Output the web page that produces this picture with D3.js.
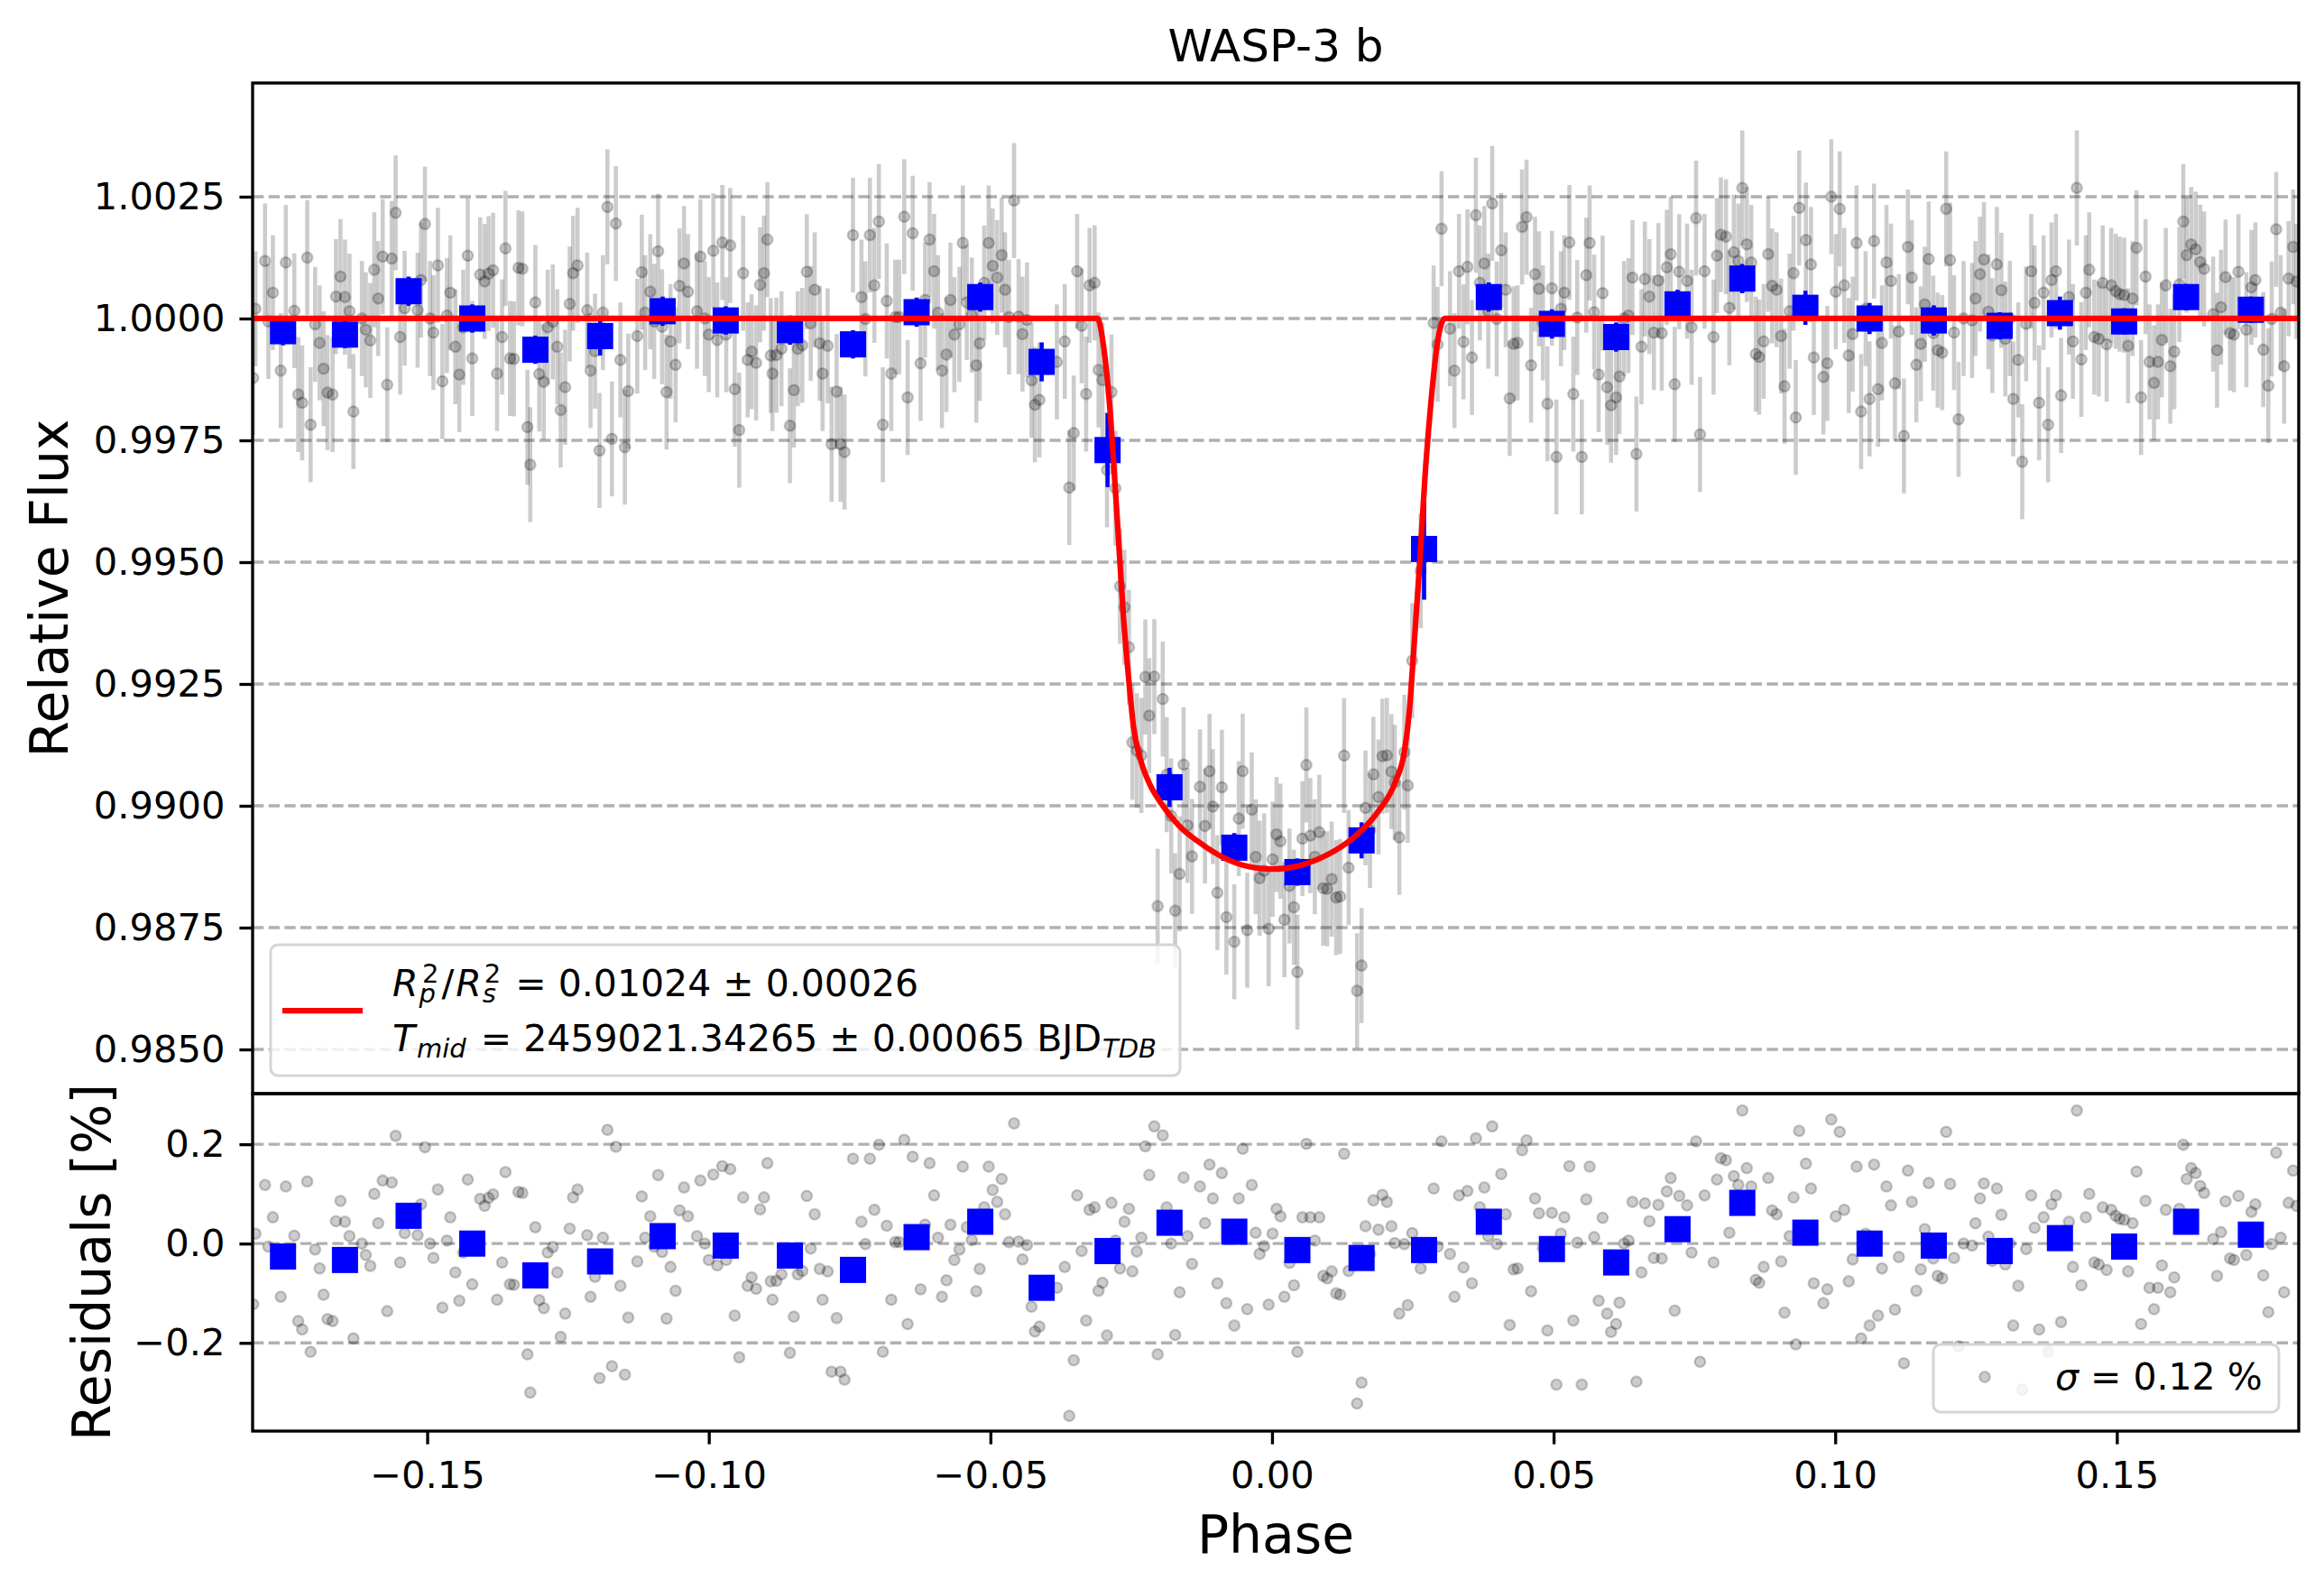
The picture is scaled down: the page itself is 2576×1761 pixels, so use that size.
<!DOCTYPE html>
<html><head><meta charset="utf-8">
<script src="https://cdn.jsdelivr.net/npm/d3@7"></script>
<style>
body{margin:0;background:#fff}
svg{display:block;font-family:"DejaVu Sans",sans-serif}
text{white-space:pre}
</style>
</head><body><svg id="c" width="2576" height="1761"></svg>
<script>
// ---------------- DATA ----------------
const title = "WASP-3 b";
const xLabel = "Phase";
const yLabelTop = "Relative Flux";
const yLabelRes = "Residuals [%]";
const xDomain = [-0.181, 0.1823];
const topDomain = [0.984093, 1.004833];
const resDomain = [-0.3776, 0.302];
const topTicks = [0.985, 0.9875, 0.99, 0.9925, 0.995, 0.9975, 1.0, 1.0025];
const resTicks = [-0.2, 0.0, 0.2];
const xTicks = [-0.15, -0.10, -0.05, 0.00, 0.05, 0.10, 0.15];

// individual observations: phase and residual (in %)
const phase = [
-0.1805,-0.1809,-0.1788,-0.1782,-0.1774,-0.1760,-0.1751,-0.1736,-0.1729,-0.1722,
-0.1713,-0.1707,-0.1699,-0.1691,-0.1684,-0.1677,-0.1668,-0.1662,-0.1654,-0.1646,
-0.1638,-0.1631,-0.1616,-0.1609,-0.1601,-0.1594,-0.1587,-0.1579,-0.1571,-0.1563,
-0.1556,-0.1548,-0.1540,-0.1517,-0.1511,-0.1504,-0.1495,-0.1489,-0.1481,-0.1473,
-0.1465,-0.1459,-0.1450,-0.1443,-0.1436,-0.1428,-0.1420,-0.1406,-0.1398,-0.1391,
-0.1383,-0.1376,-0.1367,-0.1361,-0.1353,-0.1346,-0.1338,-0.1331,-0.1322,-0.1317,
-0.1308,-0.1301,-0.1293,-0.1286,-0.1277,-0.1269,-0.1263,-0.1255,-0.1247,-0.1241,
-0.1233,-0.1216,-0.1210,-0.1202,-0.1194,-0.1188,-0.1180,-0.1172,-0.1165,-0.1157,
-0.1149,-0.1143,-0.1127,-0.1119,-0.1113,-0.1104,-0.1097,-0.1090,-0.1083,-0.1075,
-0.1068,-0.1059,-0.1052,-0.1044,-0.1037,-0.1021,-0.1015,-0.1007,-0.1000,-0.0992,
-0.0985,-0.0976,-0.0969,-0.0962,-0.0954,-0.0946,-0.0939,-0.0931,-0.0924,-0.0916,
-0.0909,-0.0902,-0.0896,-0.0890,
-0.0887,-0.0880,-0.0871,-0.0856,-0.0849,-0.0842,-0.0834,-0.0826,-0.0819,-0.0812,
-0.0803,-0.0798,-0.0789,-0.0782,-0.0773,-0.0766,-0.0759,-0.0744,-0.0729,-0.0722,
-0.0714,-0.0706,-0.0698,-0.0691,-0.0684,-0.0676,-0.0669,-0.0662,-0.0653,-0.0647,
-0.0638,-0.0624,-0.0616,-0.0608,-0.0600,-0.0593,-0.0586,-0.0578,-0.0571,-0.0564,
-0.0555,-0.0549,-0.0542,-0.0533,-0.0525,-0.0519,-0.0511,-0.0503,-0.0496,-0.0488,
-0.0480,-0.0474,-0.0467,-0.0458,-0.0450,-0.0443,-0.0435,-0.0427,-0.0421,-0.0413,
-0.0382,-0.0368,-0.0360,-0.0352,-0.0346,-0.0338,-0.0330,-0.0324,-0.0315,-0.0308,
-0.0301,-0.0293,-0.0285,-0.0278,-0.0270,-0.0262,-0.0254,-0.0248,-0.0240,-0.0232,
-0.0225,-0.0218,-0.0209,-0.0203,-0.0194,-0.0187,-0.0179,-0.0172,-0.0164,-0.0157,
-0.0150,-0.0142,-0.0128,-0.0119,-0.0111,-0.0105,-0.0097,-0.0089,-0.0081,-0.0067,
-0.0059,-0.0052,-0.0044,-0.0036,-0.0029,-0.0022,-0.0014,-0.0006,0.0001,0.0008,
0.0015,0.0022,
0.0031,0.0039,0.0045,0.0054,0.0061,0.0068,0.0076,0.0084,0.0091,0.0098,
0.0106,0.0114,0.0121,0.0128,0.0136,0.0151,0.0159,0.0166,0.0174,0.0180,
0.0189,0.0196,0.0204,0.0212,0.0218,0.0226,0.0235,0.0241,0.0249,0.0264,
0.0287,0.0294,0.0301,0.0316,0.0324,0.0332,0.0340,0.0347,0.0355,0.0362,
0.0369,0.0377,0.0384,0.0391,0.0399,0.0407,0.0415,0.0422,0.0429,0.0436,
0.0444,0.0452,0.0460,0.0467,0.0474,0.0481,0.0489,0.0497,0.0505,0.0513,
0.0519,0.0528,0.0535,0.0542,0.0550,0.0558,0.0564,0.0572,0.0580,0.0587,
0.0595,0.0602,0.0611,0.0617,0.0625,0.0633,0.0640,0.0647,0.0656,0.0662,
0.0670,0.0678,0.0686,0.0692,0.0701,0.0708,0.0715,0.0723,0.0737,0.0745,
0.0753,0.0760,0.0768,0.0784,0.0790,0.0797,0.0806,0.0812,0.0820,0.0828,
0.0835,0.0843,0.0851,0.0859,0.0865,0.0873,0.0881,0.0888,0.0896,0.0904,
0.0910,0.0919,0.0926,0.0930,0.0936,
0.0948,0.0957,0.0962,0.0979,0.0986,0.0993,0.1001,0.1008,0.1016,0.1024,
0.1031,0.1038,0.1046,0.1054,0.1061,0.1069,0.1076,0.1083,0.1091,0.1099,
0.1106,0.1113,0.1122,0.1129,0.1136,0.1144,0.1152,0.1159,0.1166,0.1174,
0.1182,0.1190,0.1197,0.1204,0.1211,0.1219,0.1228,0.1243,0.1249,0.1257,
0.1264,0.1272,0.1279,0.1287,0.1295,0.1302,0.1310,0.1316,0.1325,0.1332,
0.1339,0.1348,0.1354,0.1362,0.1370,0.1378,0.1384,0.1392,0.1401,0.1415,
0.1422,0.1429,0.1437,0.1445,0.1451,0.1460,0.1468,0.1475,0.1482,0.1490,
0.1498,0.1505,0.1513,0.1520,0.1528,0.1535,0.1543,0.1551,0.1558,0.1566,
0.1573,0.1580,0.1587,0.1595,0.1602,0.1611,0.1618,0.1624,0.1632,0.1640,
0.1648,0.1655,0.1671,0.1678,0.1685,0.1693,0.1701,0.1708,0.1716,0.1730,
0.1739,0.1746,0.1760,0.1769,0.1775,0.1783,0.1791,0.1797,0.1805,0.1813,
0.1819
];
const resid = [
0.020,-0.122,0.118,-0.006,0.053,-0.107,0.115,0.016,-0.156,-0.173,
0.125,-0.218,-0.012,-0.050,-0.103,-0.152,-0.156,0.045,0.086,0.044,
0.015,-0.191,0.000,-0.023,-0.045,0.100,0.041,0.127,-0.136,0.123,
0.217,-0.038,0.021,0.017,0.079,0.194,0.000,-0.029,0.109,-0.129,
0.006,0.053,-0.058,-0.115,-0.018,0.129,-0.082,0.090,0.076,0.092,
0.099,-0.113,-0.038,0.144,-0.082,-0.083,0.104,0.102,-0.223,-0.300,
0.033,-0.114,-0.130,-0.018,-0.007,-0.058,-0.188,-0.141,0.030,0.093,
0.109,0.017,-0.107,-0.067,-0.271,0.012,0.229,-0.247,0.195,-0.085,
-0.264,-0.149,-0.036,0.095,0.012,0.055,-0.006,0.138,-0.017,-0.151,
-0.047,-0.095,0.067,0.113,0.055,0.015,0.127,0.000,-0.033,0.139,
-0.044,0.156,-0.033,0.150,-0.145,-0.229,0.093,-0.085,-0.068,-0.091,
0.069,0.093,0.162,-0.076,
-0.113,-0.075,-0.062,-0.220,-0.147,-0.062,-0.055,0.096,-0.010,0.059,
-0.051,-0.113,-0.056,-0.258,-0.150,-0.258,-0.274,0.171,0.044,-0.001,
0.171,0.068,0.199,-0.218,0.036,-0.113,0.003,0.003,0.209,-0.162,
0.175,-0.092,0.038,0.162,0.097,0.012,-0.107,-0.074,0.038,-0.033,
-0.012,0.155,0.033,0.007,-0.096,-0.051,0.073,0.155,0.108,0.084,
0.130,0.059,0.003,0.242,0.004,-0.032,-0.003,-0.127,-0.177,-0.167,
-0.089,-0.047,-0.347,-0.235,0.097,-0.015,-0.155,0.068,0.073,-0.095,
-0.079,-0.185,0.082,0.006,-0.050,0.044,0.070,-0.056,-0.016,0.012,
0.196,0.138,0.236,-0.223,0.218,0.073,0.000,-0.184,-0.098,0.133,
0.015,-0.041,0.115,0.041,0.159,0.091,-0.080,0.142,-0.120,-0.165,
0.091,0.191,-0.132,0.118,0.022,-0.021,-0.005,-0.123,0.020,0.070,
0.055,-0.107,
-0.039,-0.084,-0.218,0.053,0.201,0.053,0.006,0.053,-0.065,-0.070,
-0.056,-0.100,-0.103,0.181,-0.055,-0.322,-0.280,0.035,-0.021,0.087,
0.028,0.098,0.084,0.035,0.001,-0.141,-0.001,-0.124,0.021,-0.050,
0.111,-0.006,0.206,-0.021,-0.107,0.097,-0.048,0.106,-0.080,0.212,
0.073,0.113,0.015,0.236,-0.001,0.140,0.059,-0.164,-0.052,-0.050,
0.188,0.208,-0.096,0.091,0.061,-0.009,-0.175,0.062,-0.284,0.020,
0.053,0.156,-0.155,0.002,-0.284,0.089,0.155,0.013,-0.115,0.052,
-0.141,-0.178,-0.162,-0.119,0.000,0.006,0.084,-0.278,-0.058,0.081,
0.045,-0.029,0.078,-0.030,0.105,0.132,-0.135,0.096,0.077,-0.018,
0.206,-0.238,0.097,-0.038,0.129,0.172,0.168,0.022,0.136,0.118,
0.268,0.152,0.115,-0.073,-0.079,-0.047,0.132,0.067,0.059,-0.036,
-0.139,0.015,0.093,-0.203,0.227,
0.161,0.111,-0.080,-0.120,-0.092,0.250,0.055,0.225,0.068,-0.076,
-0.032,0.155,-0.191,0.020,-0.165,0.159,-0.145,-0.050,0.115,0.077,
-0.133,-0.027,-0.241,0.147,0.084,-0.095,-0.052,0.029,0.122,-0.030,
-0.065,-0.070,0.225,0.120,-0.029,-0.207,0.000,-0.004,0.041,0.091,
0.121,0.014,-0.035,0.111,0.058,-0.042,0.000,-0.165,-0.085,-0.294,
-0.011,0.097,0.032,-0.173,0.053,-0.218,0.079,0.097,-0.158,0.044,
-0.047,0.268,-0.084,0.053,0.100,-0.038,-0.042,0.073,-0.053,0.068,
0.056,0.050,0.048,-0.056,0.041,0.145,-0.162,0.086,-0.089,-0.132,
-0.089,-0.044,0.068,-0.098,-0.068,0.070,0.199,0.130,0.152,0.142,
0.116,0.102,0.009,-0.065,0.023,0.085,-0.030,-0.033,0.096,-0.023,
0.064,0.079,-0.064,-0.138,-0.001,0.183,0.012,-0.098,0.082,0.147,
0.076
];
const pointErr = 0.00118;   // flux uncertainty of each observation

// transit model curve (phase, relative flux)
const modelPhase = [-0.181,-0.0310,-0.0299,-0.0288,-0.0280,-0.0272,-0.0264,-0.0255,-0.0246,-0.0235,
  -0.0219,-0.0198,-0.0166,-0.0128,-0.0085,-0.0037,0.0000,0.0048,0.0096,0.0144,
  0.0187,0.0219,0.0235,0.0243,0.0251,0.0262,0.0272,0.0283,0.0294,0.0307,0.1823];
const modelFlux = [1.0,1.0,0.99942,0.99818,0.99682,0.99537,0.99391,0.99267,0.99163,0.99101,
  0.99049,0.99007,0.98960,0.98924,0.98893,0.98874,0.98870,0.98877,0.98898,0.98934,
  0.98986,0.99049,0.99111,0.99184,0.99308,0.99495,0.99682,0.99838,0.99953,1.0,1.0];

// binned data
const binPhase = [-0.1756,-0.1646,-0.1533,-0.1420,-0.1308,-0.1193,-0.1082,-0.0970,
  -0.0856,-0.0744,-0.0631,-0.0518,-0.0409,-0.0292,-0.0182,-0.0067,
  0.0045,0.0159,0.0270,0.0385,0.0497,0.0611,0.0720,0.0835,
  0.0947,0.1061,0.1175,0.1292,0.1399,0.1513,0.1623,0.1738];
const binFlux = [0.99974,0.99967,1.00056,1.00000,0.99936,0.99964,1.00015,0.99996,
  0.99976,0.99947,1.00013,1.00044,0.99911,0.99730,0.99038,0.98914,
  0.98864,0.98929,0.99527,1.00044,0.99989,0.99962,1.00029,1.00082,
  1.00022,1.00000,0.99996,0.99985,1.00011,0.99994,1.00044,1.00018];
const binErr = [0.00029,0.00028,0.00030,0.00029,0.00029,0.00040,0.00030,0.00029,
  0.00030,0.00029,0.00030,0.00030,0.00040,0.00076,0.00040,0.00030,
  0.00028,0.00037,0.00104,0.00030,0.00030,0.00030,0.00030,0.00030,
  0.00035,0.00032,0.00031,0.00028,0.00034,0.00027,0.00027,0.00027];
const binResid = [-0.026,-0.033,0.056,0.000,-0.064,-0.036,0.015,-0.004,
  -0.024,-0.053,0.013,0.044,-0.089,-0.015,0.042,0.024,
  -0.013,-0.029,-0.013,0.044,-0.011,-0.038,0.029,0.082,
  0.022,0.000,-0.004,-0.015,0.011,-0.006,0.044,0.018];

// ---------------- DRAWING ----------------
const svg = d3.select('#c');
const L = 280, R = 2548, T = 92, M = 1212, B = 1586;
const FONT = '"DejaVu Sans", sans-serif';
const PT = 300 / 72;              // pixels per point
const TICK_FS = 10 * PT, LAB_FS = 14 * PT, TITLE_FS = 12 * PT, LEG_FS = 41, SUB_FS = 29;
const LW = 0.8 * PT;

const x = d3.scaleLinear().domain(xDomain).range([L, R]);
const yT = d3.scaleLinear().domain(topDomain).range([M, T]);
const yR = d3.scaleLinear().domain(resDomain).range([B, M]);
const model = d3.scaleLinear().domain(modelPhase).range(modelFlux).clamp(true);

const n = Math.min(phase.length, resid.length);
const obs = d3.range(n).map(i => ({p: phase[i], r: resid[i], f: model(phase[i]) + resid[i] / 100}));
const bins = binPhase.map((p, i) => ({p, f: binFlux[i], e: binErr[i], r: binResid[i]}));

const defs = svg.append('defs');
defs.append('clipPath').attr('id', 'clipT').append('rect')
  .attr('x', L).attr('y', T).attr('width', R - L).attr('height', M - T);
defs.append('clipPath').attr('id', 'clipR').append('rect')
  .attr('x', L).attr('y', M).attr('width', R - L).attr('height', B - M);

const gridStyle = sel => sel.attr('stroke', '#b0b0b0').attr('stroke-width', LW)
  .attr('stroke-dasharray', `${3.7 * LW},${1.6 * LW}`);

// grids
svg.append('g').selectAll('line').data(topTicks).join('line')
  .attr('x1', L).attr('x2', R).attr('y1', d => yT(d)).attr('y2', d => yT(d)).call(gridStyle);
svg.append('g').selectAll('line').data(resTicks).join('line')
  .attr('x1', L).attr('x2', R).attr('y1', d => yR(d)).attr('y2', d => yR(d)).call(gridStyle);

const dot = sel => sel.attr('r', 5.8)
  .attr('fill', '#000').attr('fill-opacity', 0.2)
  .attr('stroke', '#000').attr('stroke-opacity', 0.2).attr('stroke-width', 2.3);

// top panel
const gT = svg.append('g').attr('clip-path', 'url(#clipT)');
gT.append('g').selectAll('line').data(obs).join('line')
  .attr('x1', d => x(d.p)).attr('x2', d => x(d.p))
  .attr('y1', d => yT(d.f - pointErr)).attr('y2', d => yT(d.f + pointErr))
  .attr('stroke', '#000').attr('stroke-opacity', 0.2).attr('stroke-width', 4.6);
gT.append('g').selectAll('circle').data(obs).join('circle')
  .attr('cx', d => x(d.p)).attr('cy', d => yT(d.f)).call(dot);
gT.append('g').selectAll('line').data(bins).join('line')
  .attr('x1', d => x(d.p)).attr('x2', d => x(d.p))
  .attr('y1', d => yT(d.f - d.e)).attr('y2', d => yT(d.f + d.e))
  .attr('stroke', '#0000ff').attr('stroke-width', 4.6);
gT.append('g').selectAll('rect').data(bins).join('rect')
  .attr('x', d => x(d.p) - 14.5).attr('y', d => yT(d.f) - 14.5)
  .attr('width', 29).attr('height', 29).attr('fill', '#0000ff');
gT.append('path').datum(modelPhase.map((p, i) => [p, modelFlux[i]]))
  .attr('d', d3.line().x(d => x(d[0])).y(d => yT(d[1])).curve(d3.curveMonotoneX))
  .attr('fill', 'none').attr('stroke', '#ff0000').attr('stroke-width', 1.5 * PT)
  .attr('stroke-linejoin', 'round');

// residual panel
const gR = svg.append('g').attr('clip-path', 'url(#clipR)');
gR.append('g').selectAll('circle').data(obs).join('circle')
  .attr('cx', d => x(d.p)).attr('cy', d => yR(d.r)).call(dot);
gR.append('g').selectAll('rect').data(bins).join('rect')
  .attr('x', d => x(d.p) - 14.5).attr('y', d => yR(d.r) - 14.5)
  .attr('width', 29).attr('height', 29).attr('fill', '#0000ff');

// legends
const lg = svg.append('g');
lg.append('rect').attr('x', 300).attr('y', 1047).attr('width', 1008).attr('height', 145)
  .attr('rx', 8).attr('fill', '#fff').attr('fill-opacity', 0.8)
  .attr('stroke', '#d5d5d5').attr('stroke-width', 3);
lg.append('line').attr('x1', 313).attr('x2', 402).attr('y1', 1120).attr('y2', 1120)
  .attr('stroke', '#ff0000').attr('stroke-width', 1.5 * PT);
const t1 = lg.append('text').attr('x', 435).attr('y', 1104).attr('font-size', LEG_FS).attr('font-family', FONT);
t1.append('tspan').attr('font-style', 'italic').text('R');
t1.append('tspan').attr('font-style', 'italic').attr('font-size', SUB_FS).attr('dx', 1).attr('dy', 7).text('p');
t1.append('tspan').attr('font-size', SUB_FS).attr('dx', -15).attr('dy', -22).text('2');
t1.append('tspan').attr('dx', 3).attr('dy', 15).text('/');
t1.append('tspan').attr('font-style', 'italic').attr('dx', 2).text('R');
t1.append('tspan').attr('font-style', 'italic').attr('font-size', SUB_FS).attr('dx', 1).attr('dy', 7).text('s');
t1.append('tspan').attr('font-size', SUB_FS).attr('dx', -13).attr('dy', -22).text('2');
t1.append('tspan').attr('dx', 3).attr('dy', 15).text(' = 0.01024 \u00b1 0.00026');
const t2 = lg.append('text').attr('x', 435).attr('y', 1165).attr('font-size', LEG_FS).attr('font-family', FONT);
t2.append('tspan').attr('font-style', 'italic').text('T');
t2.append('tspan').attr('font-style', 'italic').attr('font-size', SUB_FS).attr('dx', 2).attr('dy', 7).text('mid');
t2.append('tspan').attr('dx', 3).attr('dy', -7).text(' = 2459021.34265 \u00b1 0.00065 BJD');
t2.append('tspan').attr('font-style', 'italic').attr('font-size', SUB_FS).attr('dx', 1).attr('dy', 7).text('TDB');

const lr = svg.append('g');
lr.append('rect').attr('x', 2143).attr('y', 1490).attr('width', 383).attr('height', 75)
  .attr('rx', 8).attr('fill', '#fff').attr('fill-opacity', 0.8)
  .attr('stroke', '#d5d5d5').attr('stroke-width', 3);
lr.append('circle').attr('cx', 2200).attr('cy', 1526).call(dot);
const t3 = lr.append('text').attr('x', 2278).attr('y', 1540).attr('font-size', LEG_FS).attr('font-family', FONT);
t3.append('tspan').attr('font-style', 'italic').text('\u03c3');
t3.append('tspan').text(' = 0.12 %');

// axes
function styleAxis(g) {
  g.select('.domain').remove();
  g.selectAll('.tick line').attr('stroke', '#000').attr('stroke-width', LW);
  g.selectAll('.tick text').attr('font-size', TICK_FS).attr('font-family', FONT).attr('fill', '#000');
}
svg.append('g').attr('transform', `translate(${L},0)`)
  .call(d3.axisLeft(yT).tickValues(topTicks).tickFormat(d3.format('.4f')).tickSize(3.5 * PT).tickPadding(16))
  .call(styleAxis);
svg.append('g').attr('transform', `translate(${L},0)`)
  .call(d3.axisLeft(yR).tickValues(resTicks).tickFormat(d3.format('.1f')).tickSize(3.5 * PT).tickPadding(16))
  .call(styleAxis);
svg.append('g').attr('transform', `translate(0,${B})`)
  .call(d3.axisBottom(x).tickValues(xTicks).tickFormat(d3.format('.2f')).tickSize(3.5 * PT).tickPadding(19))
  .call(styleAxis);

// spines
svg.append('rect').attr('x', L).attr('y', T).attr('width', R - L).attr('height', M - T)
  .attr('fill', 'none').attr('stroke', '#000').attr('stroke-width', LW);
svg.append('rect').attr('x', L).attr('y', M).attr('width', R - L).attr('height', B - M)
  .attr('fill', 'none').attr('stroke', '#000').attr('stroke-width', LW);

// labels
svg.append('text').attr('x', (L + R) / 2).attr('y', 68).attr('text-anchor', 'middle')
  .attr('font-size', TITLE_FS).attr('font-family', FONT).text(title);
svg.append('text').attr('x', (L + R) / 2).attr('y', 1721).attr('text-anchor', 'middle')
  .attr('font-size', LAB_FS).attr('font-family', FONT).text(xLabel);
svg.append('text').attr('transform', `translate(75,${(T + M) / 2}) rotate(-90)`).attr('text-anchor', 'middle')
  .attr('font-size', LAB_FS).attr('font-family', FONT).text(yLabelTop);
svg.append('text').attr('transform', `translate(122,${(M + B) / 2}) rotate(-90)`).attr('text-anchor', 'middle')
  .attr('font-size', LAB_FS).attr('font-family', FONT).text(yLabelRes);
</script>
</body></html>
